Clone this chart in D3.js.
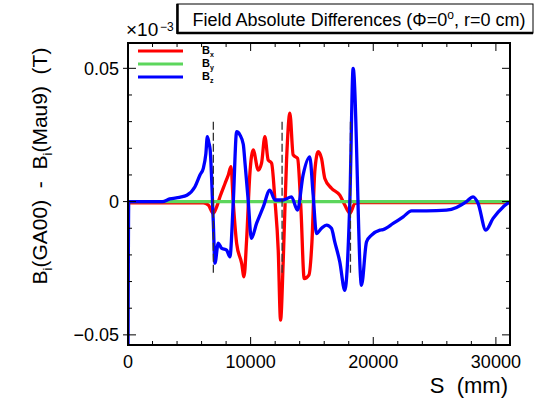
<!DOCTYPE html>
<html>
<head>
<meta charset="utf-8">
<script src="https://cdn.jsdelivr.net/npm/d3@7"></script>
<style>
  body { margin: 0; background: #fff; }
  svg { font-family: "Liberation Sans", Arial, sans-serif; }
</style>
</head>
<body>
<div id="vis"></div>
<script>
// field differences, in units of 1e-3 T, vs S (mm)
const bxS = [0, 6140, 6550, 6950, 7230, 7500, 7910, 8180, 8400, 8580, 8860, 9270, 9460, 9670, 9940, 10210, 10620, 10890, 11160, 11430, 11710, 11980, 12250, 12440, 12660, 12930, 13200, 13470, 13830, 14100, 14370, 14750, 15000, 15230, 15510, 15780, 16050, 16590, 17270, 17680, 18090, 18500, 18900, 31150];
const bxV = [-0.0005, -0.0005, -0.0013, -0.0044, -0.002, 0.0018, 0.0068, 0.010, 0.0131, 0, -0.0157, -0.0232, -0.0282, -0.0145, 0.0106, 0.0194, 0.0118, 0.0144, 0.0244, 0.0156, 0.0144, 0.0006, -0.0182, -0.0445, -0.022, 0.0156, 0.0332, 0.0175, 0.0162, -0.0026, -0.0289, -0.0276, -0.0151, 0.0112, 0.0187, 0.0162, 0.0087, 0.005, 0.0024, -0.0013, -0.0044, -0.0007, -0.0004, -0.0004];

const byS = [0, 31150];
const byV = [0, 0];

const bzS = [0, 60, 2800, 3400, 4200, 4800, 5460, 5870, 6140, 6350, 6470, 6600, 6700, 6950, 7090, 7360, 7630, 8040, 8310, 8580, 8860, 9130, 9400, 9540, 9800, 10060, 10490, 11030, 11570, 11980, 12660, 13330, 13820, 14280, 14820, 15100, 15370, 15780, 16190, 16590, 16860, 17270, 17680, 18090, 18360, 19040, 19450, 19860, 20540, 20800, 21620, 22440, 23120, 24340, 25970, 26790, 27600, 28140, 28550, 29180, 29770, 30590, 31000, 31150];
const bzV = [-0.06, 0, 0, 0.001, 0.0016, 0.0024, 0.0056, 0.010, 0.0125, 0.018, 0.0244, 0.022, 0.0194, -0.007, -0.0231, -0.0156, -0.0175, -0.0182, -0.0207, -0.0006, 0.0262, 0.025, 0.0215, 0.0145, 0.0006, -0.0138, -0.0081, -0.002, 0.0043, 0.0006, 0.0006, 0.0018, -0.0032, 0.010, 0.0168, 0.0024, -0.012, -0.010, -0.0088, -0.010, -0.0151, -0.0226, -0.0333, 0.000, 0.050, -0.0314, -0.0151, -0.0126, -0.0107, -0.0105, -0.0082, -0.0057, -0.0035, -0.0035, -0.0032, -0.0022, 0, 0.0018, -0.0007, -0.0107, -0.0063, -0.002, -0.0005, -0.0003];

const markerS = [6960, 12565, 18140];
const markerRange = [-0.027, 0.030];

const xTicks = [0, 10000, 20000, 30000];
const yTicks = [-0.05, 0, 0.05];
const yTickLabels = ["\u22120.05", "0", "0.05"];

const series = [
  {name: "x", s: bxS, v: bxV, color: "#ff0000"},
  {name: "y", s: byS, v: byV, color: "#5cd65c"},
  {name: "z", s: bzS, v: bzV, color: "#0000ff"}
];

drawChart();

function drawChart() {
  const W = 535, H = 402;
  const fL = 128, fR = 510, fT = 43, fB = 345;

  const svg = d3.select("#vis").append("svg")
      .attr("width", W).attr("height", H);

  const x = d3.scaleLinear().domain([0, 31150]).range([fL, fR]);
  const y = d3.scaleLinear().domain([-0.0538, 0.0595]).range([fB, fT]);

  svg.append("clipPath").attr("id", "clip")
    .append("rect").attr("x", fL).attr("y", fT)
    .attr("width", fR - fL).attr("height", fB - fT);

  const plot = svg.append("g").attr("clip-path", "url(#clip)");

  const line = d3.line()
      .curve(d3.curveMonotoneX)
      .x((d) => x(d[0]))
      .y((d) => y(d[1]));

  series.forEach((sr) => {
    plot.append("path")
        .datum(sr.s.map((s, i) => [s, sr.v[i]]))
        .attr("d", line)
        .attr("fill", "none")
        .attr("stroke", sr.color)
        .attr("stroke-width", 3.3)
        .attr("stroke-linejoin", "round");
  });

  // magnet edge markers
  plot.selectAll(".marker")
      .data(markerS)
      .enter().append("line")
      .attr("x1", (d) => x(d)).attr("x2", (d) => x(d))
      .attr("y1", y(markerRange[1])).attr("y2", y(markerRange[0]))
      .attr("stroke", "#333")
      .attr("stroke-width", 1.3)
      .attr("stroke-dasharray", "8,3");

  // frame
  svg.append("rect")
      .attr("x", fL).attr("y", fT)
      .attr("width", fR - fL).attr("height", fB - fT)
      .attr("fill", "none").attr("stroke", "#000").attr("stroke-width", 2);

  // ticks
  const xMinor = d3.range(0, 31151, 2000);
  const yMinor = d3.range(-5, 6).map((k) => k / 100);
  const ticks = svg.append("g").attr("stroke", "#000").attr("stroke-width", 1);

  xMinor.forEach((t) => {
    const len = t % 10000 === 0 ? 8 : 4;
    ticks.append("line").attr("x1", x(t)).attr("x2", x(t))
        .attr("y1", fB).attr("y2", fB - len);
    ticks.append("line").attr("x1", x(t)).attr("x2", x(t))
        .attr("y1", fT).attr("y2", fT + len);
  });

  yMinor.forEach((t, k) => {
    const major = k % 5 === 0;
    const len = major ? 8 : 4;
    ticks.append("line").attr("x1", major ? fL - 5 : fL).attr("x2", fL + len)
        .attr("y1", y(t)).attr("y2", y(t));
    ticks.append("line").attr("x1", fR).attr("x2", fR - len)
        .attr("y1", y(t)).attr("y2", y(t));
  });

  // tick labels
  svg.append("g").selectAll("text")
      .data(xTicks).enter().append("text")
      .attr("x", (d) => x(d)).attr("y", 368)
      .attr("text-anchor", "middle")
      .attr("font-size", 18)
      .text((d) => d);

  svg.append("g").selectAll("text")
      .data(yTicks).enter().append("text")
      .attr("x", 119).attr("y", (d) => y(d) + 6.5)
      .attr("text-anchor", "end")
      .attr("font-size", 18)
      .text((d, i) => yTickLabels[i]);

  // exponent
  svg.append("text").attr("x", 126).attr("y", 36).attr("font-size", 19).text("\u00d710");
  svg.append("text").attr("x", 160).attr("y", 31).attr("font-size", 12).text("\u22123");

  // axis titles
  svg.append("text")
      .attr("x", 508).attr("y", 393)
      .attr("text-anchor", "end")
      .attr("font-size", 22)
      .style("white-space", "pre")
      .text("S  (mm)");

  const yt = svg.append("text")
      .attr("transform", "translate(47,166) rotate(-90)")
      .attr("text-anchor", "middle")
      .attr("font-size", 21)
      .style("white-space", "pre");
  yt.append("tspan").text("B");
  yt.append("tspan").attr("font-size", 13).attr("dy", 5).text("i");
  yt.append("tspan").attr("dy", -5).text("(GA00)  -  B");
  yt.append("tspan").attr("font-size", 13).attr("dy", 5).text("i");
  yt.append("tspan").attr("dy", -5).text("(Mau9)  (T)");

  // title box
  svg.append("rect")
      .attr("x", 177).attr("y", 4).attr("width", 356).attr("height", 29)
      .attr("fill", "#fff").attr("stroke", "#000").attr("stroke-width", 1);
  svg.append("line").attr("x1", 177.5).attr("x2", 177.5).attr("y1", 4).attr("y2", 34)
      .attr("stroke", "#000").attr("stroke-width", 2.5);
  svg.append("line").attr("x1", 177).attr("x2", 533).attr("y1", 33).attr("y2", 33)
      .attr("stroke", "#000").attr("stroke-width", 2.5);

  const title = svg.append("text")
      .attr("x", 359).attr("y", 26)
      .attr("text-anchor", "middle")
      .attr("font-size", 18);
  title.append("tspan").text("Field Absolute Differences (\u03a6=0");
  title.append("tspan").attr("dy", -7).attr("font-size", 12).text("o");
  title.append("tspan").attr("dy", 7).text(", r=0 cm)");

  // legend
  const legend = svg.append("g");
  series.forEach((sr, i) => {
    const ly = 51 + i * 13;
    legend.append("line")
        .attr("x1", 138).attr("x2", 183)
        .attr("y1", ly).attr("y2", ly)
        .attr("stroke", sr.color).attr("stroke-width", 3);
    const t = legend.append("text")
        .attr("x", 202).attr("y", ly + 2.5)
        .attr("font-size", 11).attr("font-weight", "bold");
    t.append("tspan").text("B");
    t.append("tspan").attr("dy", 3).attr("font-size", 7).text(sr.name);
  });
}
</script>
</body>
</html>
